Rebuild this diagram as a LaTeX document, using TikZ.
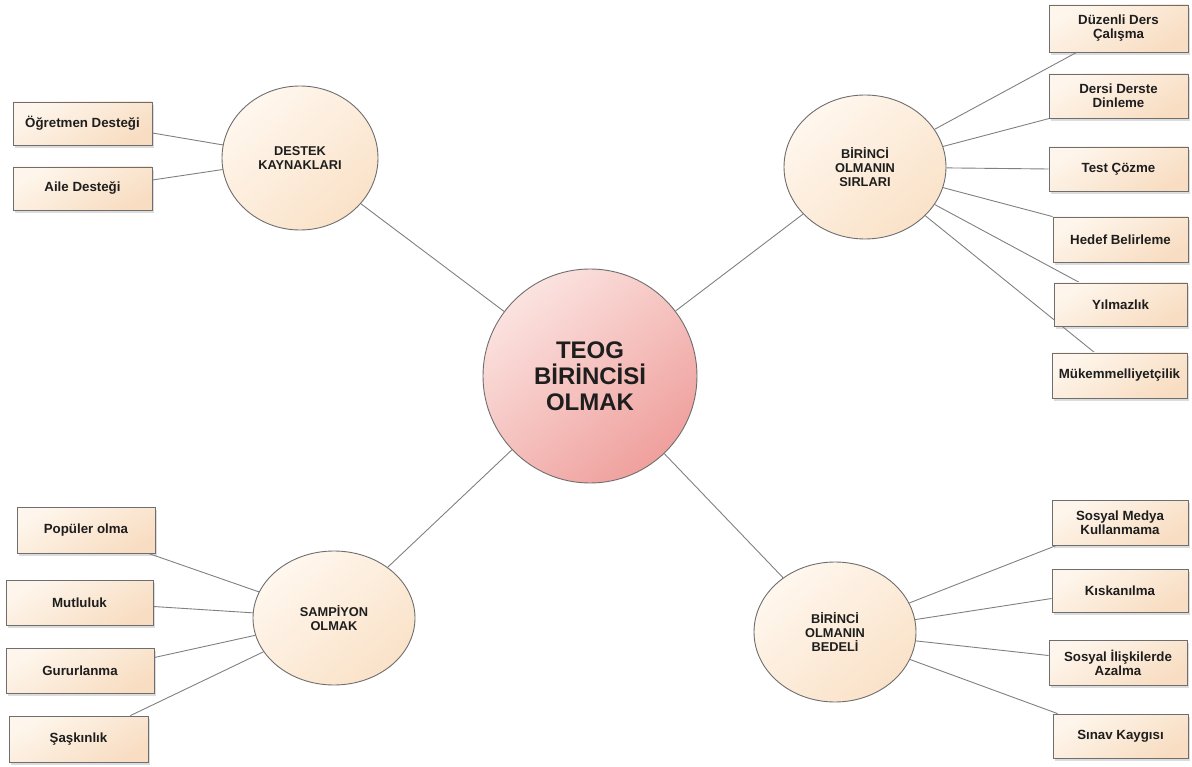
\documentclass[tikz,border=0pt]{standalone}
\usepackage{fontspec}
\setmainfont{Liberation Sans}
\usetikzlibrary{shapes.geometric,shadows,calc,backgrounds}

\definecolor{hubA}{HTML}{FBE3E0}
\definecolor{hubB}{HTML}{EFA09D}
\definecolor{topA}{HTML}{FFF7EE}
\definecolor{topB}{HTML}{FAE2C8}
\definecolor{leafA}{HTML}{FEF6EC}
\definecolor{leafB}{HTML}{F8DDC2}
\definecolor{rim}{HTML}{6E6E6E}
\definecolor{wire}{HTML}{808080}
\definecolor{ink}{HTML}{1E1E1E}

\tikzset{
  hub/.style={circle, draw=rim, line width=0.9pt, minimum size=214pt, inner sep=0pt,
    top color=hubA, bottom color=hubB, shading angle=40,
    align=center, text=ink, font=\fontsize{24}{26}\selectfont\bfseries},
  topic/.style={ellipse, draw=rim, line width=0.9pt, inner sep=0pt,
    top color=topA, bottom color=topB, shading angle=40,
    align=center, text=ink, font=\fontsize{12.8}{13.8}\selectfont\bfseries},
  leaf/.style={rectangle, draw=rim, line width=0.8pt, inner sep=0pt,
    top color=leafA, bottom color=leafB, shading angle=30,
    drop shadow={shadow xshift=1.5pt, shadow yshift=-3pt, fill=black!45, opacity=0.3},
    align=center, text=ink, font=\fontsize{13.3}{14}\selectfont\bfseries},
  wire/.style={draw=wire, line width=0.9pt}
}

\begin{document}
\begin{tikzpicture}[x=1pt, y=-1pt]
\useasboundingbox (0,0) rectangle (1192,767);

% central idea
\node[hub] (hub) at (590,376) {TEOG\\BİRİNCİSİ\\OLMAK};

% four branches
\node[topic, minimum width=156pt, minimum height=144pt] (destek) at (300,158) {DESTEK\\KAYNAKLARI};
\node[topic, minimum width=162pt, minimum height=144pt] (sirlar) at (865,167) {BİRİNCİ\\OLMANIN\\SIRLARI};
\node[topic, minimum width=162pt, minimum height=134pt] (sampiyon) at (334,618) {SAMPİYON\\OLMAK};
\node[topic, minimum width=162pt, minimum height=140pt] (bedel) at (835,632) {BİRİNCİ\\OLMANIN\\BEDELİ};

% support sources
\node[leaf, minimum width=139pt, minimum height=43pt] (ogr) at (82.5,123.5) {Öğretmen Desteği};
\node[leaf, minimum width=139pt, minimum height=43pt] (aile) at (82.5,188.5) {Aile Desteği};

% secrets of success
\node[leaf, minimum width=139pt, minimum height=47pt] (duz) at (1118.5,28.5) {Düzenli Ders\\Çalışma};
\node[leaf, minimum width=139pt, minimum height=44pt] (dersi) at (1118.5,96) {Dersi Derste\\Dinleme};
\node[leaf, minimum width=139pt, minimum height=44pt] (test) at (1118.5,169) {Test Çözme};
\node[leaf, minimum width=135pt, minimum height=45pt] (hedef) at (1120.5,239.5) {Hedef Belirleme};
\node[leaf, minimum width=133pt, minimum height=43pt] (yilmaz) at (1120.5,304.5) {Yılmazlık};
\node[leaf, minimum width=135pt, minimum height=45pt] (mukem) at (1119.5,375.5) {Mükemmelliyetçilik};

% being a champion
\node[leaf, minimum width=138pt, minimum height=46pt] (pop) at (86,530) {Popüler olma};
\node[leaf, minimum width=147pt, minimum height=45pt] (mutlu) at (79.5,602.5) {Mutluluk};
\node[leaf, minimum width=148pt, minimum height=45pt] (gurur) at (80,670.5) {Gururlanma};
\node[leaf, minimum width=139pt, minimum height=46pt] (sask) at (78.5,739) {Şaşkınlık};

% the price of being first
\node[leaf, minimum width=136pt, minimum height=45pt] (sosmed) at (1120,522.5) {Sosyal Medya\\Kullanmama};
\node[leaf, minimum width=136pt, minimum height=43pt] (kiskan) at (1120,590.5) {Kıskanılma};
\node[leaf, minimum width=138pt, minimum height=45pt] (sosil) at (1118,662.5) {Sosyal İlişkilerde\\Azalma};
\node[leaf, minimum width=135pt, minimum height=44pt] (sinav) at (1120.5,736) {Sınav Kaygısı};

\begin{scope}[on background layer]
  % hub to branches
  \draw[wire] (hub) -- (destek);
  \draw[wire] (hub) -- (sirlar);
  \draw[wire] (hub) -- (sampiyon);
  \draw[wire] (hub) -- (bedel);

  % branch to leaves
  \draw[wire] (destek) -- ($(ogr.east)+(0,9.5)$);
  \draw[wire] (destek) -- ($(aile.east)+(0,-8.5)$);

  \draw[wire] (sirlar) -- ($(duz.south west)+(28,0)$);
  \draw[wire] (sirlar) -- ($(dersi.south west)+(1,0)$);
  \draw[wire] (sirlar) -- (test.west);
  \draw[wire] (sirlar) -- (hedef.north west);
  \draw[wire] (sirlar) -- ($(yilmaz.north west)+(26,0)$);
  \draw[wire] (sirlar) -- ($(mukem.north west)+(43,0)$);

  \draw[wire] (sampiyon) -- ($(pop.south east)+(-7,0)$);
  \draw[wire] (sampiyon) -- ($(mutlu.east)+(0,4)$);
  \draw[wire] (sampiyon) -- ($(gurur.east)+(0,-13)$);
  \draw[wire] (sampiyon) -- ($(sask.north east)+(-18,0)$);

  \draw[wire] (bedel) -- ($(sosmed.south west)+(5,0)$);
  \draw[wire] (bedel) -- ($(kiskan.west)+(0,8)$);
  \draw[wire] (bedel) -- ($(sosil.west)+(0,-7)$);
  \draw[wire] (bedel) -- ($(sinav.north west)+(5,0)$);
\end{scope}
\end{tikzpicture}
\end{document}
